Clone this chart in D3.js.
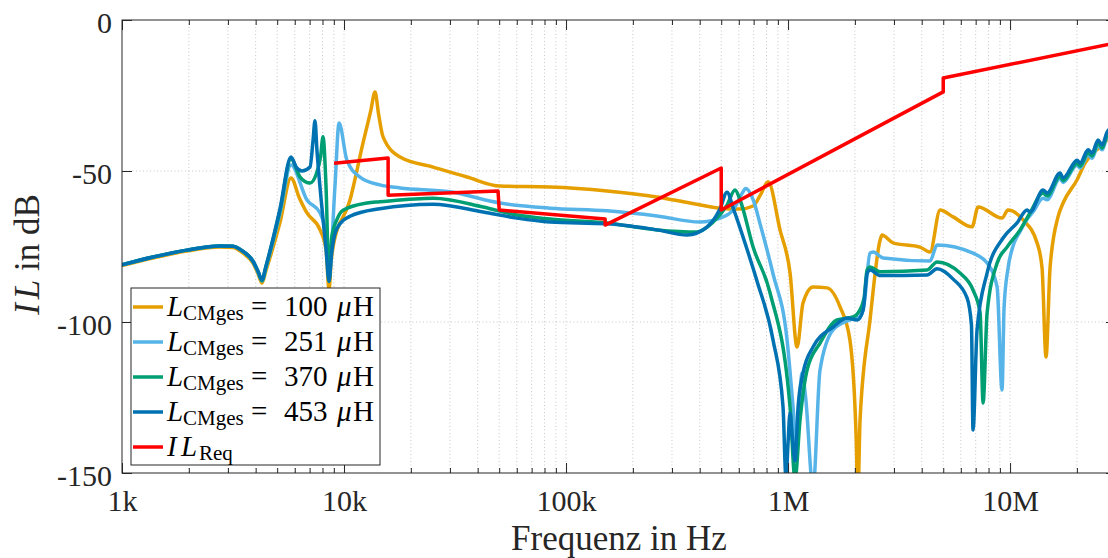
<!DOCTYPE html>
<html>
<head>
<meta charset="utf-8">
<script src="https://cdn.jsdelivr.net/npm/d3@7"></script>
<style>
  body { margin: 0; background: #fff; }
  svg, svg text { font-family: "Liberation Serif", "Times New Roman", serif; }
</style>
</head>
<body>
<div id="chart"></div>
<script>
// ---- data (frequency in Hz, insertion loss in dB) ----
const majorFreqs = [1e3, 1e4, 1e5, 1e6, 1e7];
const freqLabels = ["1k", "10k", "100k", "1M", "10M"];
const ilTicks = [0, -50, -100, -150];

const L100 = [[1e3,-81.3],[1.38e3,-78.8],[1.96e3,-76.5],[2.76e3,-75.2],[3.16e3,-75.3],[3.51e3,-77.2],[3.89e3,-80.5],[4.1e3,-84],[4.27e3,-87.1],[4.45e3,-83],[5.15e3,-67],[5.77e3,-52.3],[6.3e3,-59],[6.81e3,-63.9],[7.8e3,-69.5],[8.3e3,-76],[8.56e3,-89.4],[8.75e3,-80],[8.92e3,-75.2],[10.64e3,-59.6],[12.18e3,-40.7],[13.2e3,-30],[13.79e3,-23.8],[14.3e3,-31],[14.99e3,-38.7],[17.88e3,-45.4],[25.2e3,-48.7],[35.8e3,-52.0],[50.4e3,-55.0],[84.7e3,-55.3],[153e3,-56.6],[257e3,-58.6],[362e3,-60.6],[494e3,-62.3],[608e3,-62.6],[696e3,-61.6],[750e3,-58],[813e3,-53.6],[920e3,-69.5],[1.021e6,-83.8],[1.098e6,-108.3],[1.168e6,-93.7],[1.296e6,-88.4],[1.5e6,-88.7],[1.715e6,-95.0],[1.9e6,-106],[2.03e6,-140],[2.06e6,-160],[2.11e6,-132.5],[2.34e6,-99.3],[2.6e6,-72.8],[2.65e6,-71.2],[2.97e6,-73.8],[3.93e6,-75.2],[4.36e6,-76.8],[4.84e6,-62.9],[5.54e6,-65.2],[6.74e6,-68.5],[7.18e6,-61.9],[9.2e6,-65.6],[9.79e6,-62.9],[11.45e6,-66.2],[13.23e6,-73.8],[13.93e6,-82],[14.52e6,-111.6],[15.14e6,-82],[16.44e6,-65.2],[17.33e6,-60.6],[20.04e6,-52.9],[21.77e6,-47.4],[23.65e6,-44.0],[25.44e6,-42.1],[27.35e6,-39.7],[3e7,-37.5]];

const L251 = [[1e3,-81.1],[1.38e3,-78.5],[1.96e3,-76.2],[2.76e3,-74.8],[3.16e3,-74.9],[3.51e3,-76.7],[3.89e3,-80],[4.1e3,-83.5],[4.27e3,-86.4],[4.45e3,-82],[5.15e3,-64],[5.77e3,-48.0],[6.81e3,-59.6],[7.8e3,-63.9],[8.37e3,-72.8],[8.56e3,-85.1],[9.1e3,-55.3],[9.5e3,-34.1],[10.3e3,-46.4],[11.8e3,-52],[14.5e3,-54.6],[17.88e3,-55.6],[30e3,-56.9],[50.4e3,-60.6],[84.7e3,-62.3],[153e3,-63.2],[257e3,-64.9],[401e3,-66.9],[494e3,-65.6],[566e3,-62.9],[620e3,-57.5],[645e3,-55.8],[700e3,-60],[748e3,-67.5],[856e3,-84.1],[990e3,-106],[1.053e6,-128],[1.09e6,-141],[1.156e6,-116.9],[1.2e6,-125],[1.296e6,-155],[1.393e6,-115.9],[1.595e6,-102.6],[1.9e6,-99.3],[2.11e6,-98.3],[2.2e6,-94],[2.34e6,-77.2],[2.415e6,-76.8],[2.68e6,-78.8],[4.36e6,-79.8],[4.69e6,-74.5],[6.81e6,-77.2],[7.88e6,-80.5],[8.74e6,-88.4],[9.2e6,-122.5],[9.4e6,-95],[9.8e6,-82],[10.3e6,-75],[11.1e6,-70],[11.93e6,-66],[12.7e6,-63.5],[14.08e6,-59],[14.68e6,-59.5],[16.79e6,-52.5],[17.33e6,-53.8],[20.04e6,-48],[20.67e6,-49],[22.46e6,-44.8],[23.41e6,-45.8],[24.92e6,-41.5],[25.97e6,-43],[27.35e6,-38.8],[3e7,-36.5]];

const L370 = [[1e3,-81.1],[1.38e3,-78.5],[1.96e3,-76.2],[2.76e3,-74.8],[3.16e3,-74.9],[3.51e3,-76.6],[3.89e3,-79.9],[4.1e3,-83.3],[4.27e3,-86.3],[4.45e3,-81.7],[5.15e3,-63],[5.77e3,-46.0],[6.34e3,-52],[7.03e3,-54.0],[7.5e3,-51],[7.85e3,-45],[8.04e3,-38.7],[8.3e3,-55.3],[8.56e3,-86.5],[8.8e3,-72],[9.3e3,-66],[9.9e3,-63],[12.7e3,-60.6],[14.5e3,-60.2],[25.2e3,-59],[42.3e3,-61.9],[60.1e3,-64.6],[84.7e3,-65.9],[153e3,-67.2],[257e3,-69.5],[389e3,-70.2],[459e3,-67.0],[531e3,-61.3],[577e3,-56.3],[608e3,-59.6],[696e3,-75.2],[830e3,-90.4],[1.021e6,-128.1],[1.075e6,-152],[1.132e6,-132.5],[1.218e6,-115.9],[1.393e6,-107],[1.663e6,-99.3],[1.963e6,-98.3],[2.067e6,-97],[2.2e6,-92],[2.27e6,-82.8],[2.34e6,-81.8],[2.6e6,-83.4],[4.23e6,-82.8],[4.69e6,-80.1],[5.95e6,-83.8],[6.81e6,-89.4],[7.33e6,-97],[7.56e6,-126.8],[7.88e6,-97],[8.74e6,-80.5],[9.69e6,-75.2],[11.1e6,-69.5],[12.3e6,-63.9],[14.08e6,-57.3],[14.68e6,-58.3],[16.79e6,-51.7],[17.33e6,-53.2],[20.04e6,-47.4],[20.67e6,-48.4],[22.46e6,-44.0],[23.41e6,-45.0],[24.92e6,-40.7],[25.97e6,-42.4],[27.35e6,-38.1],[3e7,-35.6]];

const L453 = [[1e3,-81.1],[1.38e3,-78.5],[1.96e3,-76.2],[2.76e3,-74.8],[3.16e3,-74.9],[3.51e3,-76.6],[3.89e3,-79.8],[4.1e3,-83.2],[4.27e3,-86.0],[4.45e3,-81.5],[5.15e3,-62.5],[5.77e3,-45.4],[6.1e3,-48.8],[6.47e3,-50.0],[7.03e3,-48.7],[7.25e3,-40],[7.40e3,-33.4],[7.55e3,-43],[7.9e3,-60],[8.3e3,-76],[8.56e3,-86.5],[8.8e3,-77],[9.3e3,-69],[10.64e3,-65],[14.5e3,-62.5],[25.2e3,-61],[42.3e3,-63.6],[60.1e3,-65.6],[84.7e3,-66.9],[153e3,-67.5],[257e3,-69.5],[351e3,-71.2],[432e3,-68.5],[494e3,-62.5],[531e3,-57.0],[566e3,-62.3],[654e3,-76],[725e3,-86.5],[856e3,-106],[949e3,-128],[979e3,-152],[1.0e6,-140],[1.021e6,-130.1],[1.045e6,-138],[1.075e6,-146],[1.11e6,-128],[1.168e6,-116.9],[1.296e6,-108.3],[1.595e6,-101.7],[1.844e6,-98.7],[2.05e6,-99.3],[2.18e6,-96],[2.27e6,-84],[2.34e6,-82.8],[2.6e6,-84.6],[4.23e6,-84.4],[4.69e6,-82.4],[5.54e6,-85.8],[6.4e6,-92],[6.7e6,-101],[6.81e6,-135.8],[7.1e6,-102.6],[7.88e6,-83.8],[9.3e6,-72.2],[10.75e6,-67.2],[11.93e6,-62.9],[12.3e6,-63.6],[14.08e6,-56.3],[14.68e6,-57.3],[16.79e6,-50.7],[17.33e6,-52.3],[20.04e6,-46.4],[20.67e6,-47.4],[22.46e6,-43.0],[23.41e6,-44.0],[24.92e6,-39.7],[25.97e6,-41.4],[27.35e6,-37.1],[3e7,-34.6]];

const ILreq = [[9.02e3,-47.4],[15.8e3,-45.7],[15.8e3,-58.0],[49.4e3,-56.6],[50e3,-62.9],[150e3,-65.9],[150e3,-67.9],[500e3,-49.0],[500e3,-62.9],[5e6,-23.8],[5e6,-19.2],[3e7,-7.6]];

const series = [
  { name: "100", data: L100, color: "#E69F00" },
  { name: "251", data: L251, color: "#56B4E9" },
  { name: "370", data: L370, color: "#009E73" },
  { name: "453", data: L453, color: "#0072B2" }
];

// ---- layout ----
const width = 1108, height = 558;
const plotLeft = 122, plotTop = 20, plotRight = 1116, plotBottom = 473;
const axisColor = "#262626";
const serif = '"Liberation Serif", "Times New Roman", serif';

const svg = d3.select("#chart").append("svg")
    .attr("width", width)
    .attr("height", height);

const x = d3.scaleLog().domain([1e3, 3e7]).range([plotLeft, plotRight]);
const y = d3.scaleLinear().domain([-150, 0]).range([plotBottom, plotTop]);

// minor frequency positions 2..9 per decade
const minorFreqs = [];
majorFreqs.forEach(d => {
  for (let k = 2; k <= 9; k++) if (d * k <= 3e7) minorFreqs.push(d * k);
});

svg.append("defs").append("clipPath").attr("id", "plotclip")
  .append("rect")
    .attr("x", plotLeft).attr("y", plotTop)
    .attr("width", plotRight - plotLeft).attr("height", plotBottom - plotTop);

// grid
const grid = svg.append("g")
    .attr("stroke", "#c8c8c8")
    .attr("stroke-width", 1)
    .attr("stroke-dasharray", "1,2.5");
grid.selectAll("line.vx")
  .data(majorFreqs.concat(minorFreqs).filter(d => d > 1e3))
  .join("line")
    .attr("x1", d => x(d)).attr("x2", d => x(d))
    .attr("y1", plotTop).attr("y2", plotBottom);
grid.selectAll("line.hy")
  .data([-50, -100])
  .join("line")
    .attr("x1", plotLeft).attr("x2", plotRight)
    .attr("y1", d => y(d)).attr("y2", d => y(d));

// curves
const smooth = d3.line()
    .x(d => x(d[0]))
    .y(d => y(d[1]))
    .curve(d3.curveMonotoneX);
const straight = d3.line()
    .x(d => x(d[0]))
    .y(d => y(d[1]));

const plot = svg.append("g").attr("clip-path", "url(#plotclip)");

plot.selectAll("path.il")
  .data(series)
  .join("path")
    .attr("fill", "none")
    .attr("stroke", d => d.color)
    .attr("stroke-width", 3.5)
    .attr("stroke-linejoin", "round")
    .attr("d", d => smooth(d.data));

plot.append("path")
    .attr("fill", "none")
    .attr("stroke", "#FF0000")
    .attr("stroke-width", 3.5)
    .attr("stroke-linejoin", "round")
    .attr("d", straight(ILreq));

// axes (ticks point inward, box on)
function styleAxis(g) {
  g.attr("font-family", serif).attr("font-size", 30);
  g.select(".domain").remove();
  g.selectAll("line").attr("stroke", axisColor);
  g.selectAll("text").attr("fill", axisColor);
}

svg.append("g")
    .attr("transform", `translate(0,${plotBottom})`)
    .call(d3.axisBottom(x).tickValues(majorFreqs)
      .tickFormat((d, i) => freqLabels[i]).tickSize(-10).tickPadding(17))
    .call(styleAxis);
svg.append("g")
    .attr("transform", `translate(0,${plotBottom})`)
    .call(d3.axisBottom(x).tickValues(minorFreqs).tickFormat("").tickSize(-5))
    .call(styleAxis);
svg.append("g")
    .attr("transform", `translate(0,${plotTop})`)
    .call(d3.axisTop(x).tickValues(majorFreqs).tickFormat("").tickSize(-10))
    .call(styleAxis);
svg.append("g")
    .attr("transform", `translate(0,${plotTop})`)
    .call(d3.axisTop(x).tickValues(minorFreqs).tickFormat("").tickSize(-5))
    .call(styleAxis);

const yAx = svg.append("g")
    .attr("transform", `translate(${plotLeft},0)`)
    .call(d3.axisLeft(y).tickValues(ilTicks).tickFormat(d => String(d)).tickSize(-10).tickPadding(10))
    .call(styleAxis);
yAx.selectAll("text").attr("dy", "0.4em");
svg.append("g")
    .attr("transform", `translate(${plotRight},0)`)
    .call(d3.axisRight(y).tickValues(ilTicks).tickFormat("").tickSize(-10))
    .call(styleAxis);

svg.append("rect")
    .attr("x", plotLeft).attr("y", plotTop)
    .attr("width", plotRight - plotLeft).attr("height", plotBottom - plotTop)
    .attr("fill", "none")
    .attr("stroke", axisColor)
    .attr("stroke-width", 1);

// axis labels
svg.append("text")
    .attr("x", (plotLeft + plotRight) / 2)
    .attr("y", 550)
    .attr("text-anchor", "middle")
    .attr("font-size", 35)
    .attr("fill", axisColor)
    .text("Frequenz in Hz");

const yl = svg.append("text")
    .attr("transform", `translate(39,${(plotTop + plotBottom) / 2 + 8}) rotate(-90)`)
    .attr("text-anchor", "middle")
    .attr("font-size", 35)
    .attr("fill", axisColor);
yl.append("tspan").attr("font-style", "italic").text("I");
yl.append("tspan").attr("font-style", "italic").attr("dx", 4).text("L");
yl.append("tspan").text(" in dB");

// legend
const lg = svg.append("g").attr("transform", "translate(131,288)");
lg.append("rect")
    .attr("width", 249).attr("height", 177)
    .attr("fill", "#fff")
    .attr("stroke", axisColor)
    .attr("stroke-width", 1);

const rowY = i => 19 + i * 35;
const entries = series.map(s => ({ color: s.color, val: s.name }))
  .concat([{ color: "#FF0000", val: null }]);

entries.forEach((e, i) => {
  const ry = rowY(i);
  lg.append("line")
      .attr("x1", 2).attr("x2", 32)
      .attr("y1", ry).attr("y2", ry)
      .attr("stroke", e.color)
      .attr("stroke-width", 3.5);
  const t = lg.append("text")
      .attr("y", ry + 9)
      .attr("font-size", 29)
      .attr("fill", "#000");
  if (e.val) {
    t.append("tspan").attr("x", 36).attr("font-style", "italic").text("L");
    t.append("tspan").attr("x", 52).attr("dy", 4).attr("font-size", 21).text("CMges");
    t.append("tspan").attr("x", 120).attr("dy", -4).attr("textLength", 22).text("=");
    t.append("tspan").attr("x", 153).text(e.val);
    t.append("tspan").attr("x", 206).attr("font-style", "italic").text("μ");
    t.append("tspan").attr("x", 222).text("H");
  } else {
    t.append("tspan").attr("x", 36).attr("font-style", "italic").text("I");
    t.append("tspan").attr("x", 50).attr("font-style", "italic").text("L");
    t.append("tspan").attr("x", 68).attr("dy", 4).attr("font-size", 21).text("Req");
  }
});
</script>
</body>
</html>
